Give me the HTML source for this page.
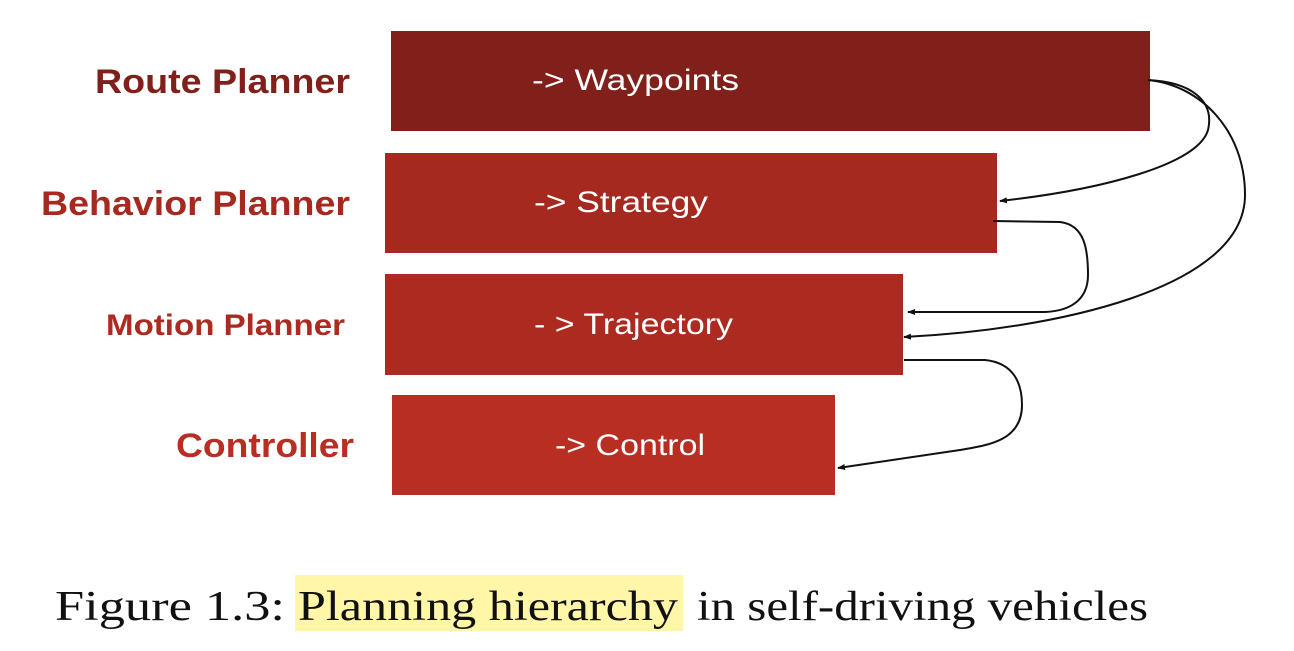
<!DOCTYPE html>
<html><head><style>body{margin:0;background:#fff}svg{display:block}</style></head><body>
<svg width="1294" height="651" viewBox="0 0 1294 651" xmlns="http://www.w3.org/2000/svg">
<defs><marker id="a" markerWidth="8" markerHeight="8" refX="7" refY="4" orient="auto" markerUnits="userSpaceOnUse"><path d="M0,1 L8,4 L0,7 Z" fill="#111"/></marker></defs>
<rect x="391" y="31" width="759" height="100" fill="#81201a"/>
<rect x="385" y="153" width="612" height="100" fill="#a5291f"/>
<rect x="385" y="274" width="518" height="101" fill="#ad2a20"/>
<rect x="392" y="395" width="443" height="100" fill="#b82e22"/>
<g font-family="Liberation Sans, sans-serif" font-weight="bold" text-anchor="end">
<text x="350" y="93" font-size="34" fill="#81201a" textLength="255" lengthAdjust="spacingAndGlyphs">Route Planner</text>
<text x="350" y="215" font-size="34" fill="#a5291f" textLength="309" lengthAdjust="spacingAndGlyphs">Behavior Planner</text>
<text x="345" y="335" font-size="30" fill="#ad2a20" textLength="239" lengthAdjust="spacingAndGlyphs">Motion Planner</text>
<text x="354" y="457" font-size="34" fill="#b82e22" textLength="178" lengthAdjust="spacingAndGlyphs">Controller</text>
</g>
<g font-family="Liberation Sans, sans-serif" font-size="30" fill="#fff">
<text x="532" y="90" textLength="207" lengthAdjust="spacingAndGlyphs">-&gt;  Waypoints</text>
<text x="534" y="212" textLength="174" lengthAdjust="spacingAndGlyphs">-&gt;  Strategy</text>
<text x="534" y="334" textLength="199" lengthAdjust="spacingAndGlyphs">- &gt; Trajectory</text>
<text x="555" y="455" textLength="150" lengthAdjust="spacingAndGlyphs">-&gt; Control</text>
</g>
<g fill="none" stroke="#111" stroke-width="2">
<path d="M1148,80 C1190,82 1215,100 1208,130 C1198,165 1100,190 1000,201" marker-end="url(#a)"/>
<path d="M1148,80 C1200,85 1245,130 1245,195 C1245,290 1050,330 904,337" marker-end="url(#a)"/>
<path d="M993,221 L1060,222 C1085,225 1088,250 1088,275 C1088,300 1070,311 1045,312 L908,312" marker-end="url(#a)"/>
<path d="M904,360 L985,360 C1015,363 1022,385 1022,405 C1022,440 990,445 960,450 L838,468" marker-end="url(#a)"/>
</g>
<rect x="295" y="575" width="388" height="56" fill="#fff6a8"/>
<g font-family="Liberation Serif, serif" font-size="42" fill="#111">
<text x="55" y="620" textLength="230" lengthAdjust="spacingAndGlyphs">Figure 1.3:</text>
<text x="298" y="620" textLength="380" lengthAdjust="spacingAndGlyphs">Planning hierarchy</text>
<text x="697" y="620" textLength="451" lengthAdjust="spacingAndGlyphs">in self-driving vehicles</text>
</g>
</svg>
</body></html>
